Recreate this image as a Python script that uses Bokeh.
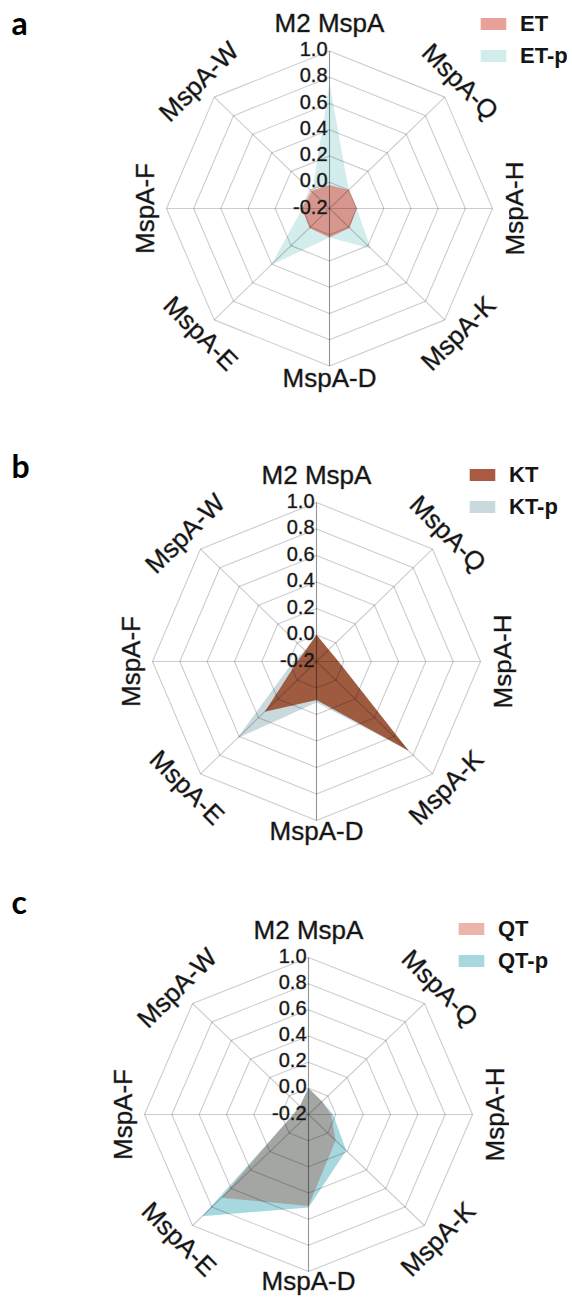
import math

from bokeh.core.properties import value
from bokeh.embed import file_html
from bokeh.layouts import column
from bokeh.models import Label, Legend, LegendItem
from bokeh.plotting import figure
from bokeh.resources import INLINE

# ---- data -------------------------------------------------------------
categories = ["M2 MspA", "MspA-Q", "MspA-H", "MspA-K",
              "MspA-D", "MspA-E", "MspA-F", "MspA-W"]
tick_values = [1.0, 0.8, 0.6, 0.4, 0.2, 0.0, -0.2]
tick_labels = ["1.0", "0.8", "0.6", "0.4", "0.2", "0.0", "-0.2"]
ring_values = [0.0, 0.2, 0.4, 0.6, 0.8, 1.0]
R_MIN, R_MAX = -0.2, 1.0

et = [-0.02, 0.0, 0.0, 0.01, 0.02, 0.01, 0.0, -0.01]
et_p = [0.75, 0.0, 0.0, 0.23, 0.02, 0.41, 0.0, -0.02]

kt = [0.0, -0.075, -0.04, 0.75, 0.09, 0.335, -0.06, -0.085]
kt_p = [0.0, -0.075, -0.04, 0.75, 0.11, 0.62, -0.03, -0.08]

qt = [0.0, -0.06, -0.035, 0.08, 0.50, 0.70, -0.085, -0.11]
qt_p = [0.0, -0.06, -0.02, 0.19, 0.51, 0.90, -0.09, -0.11]

# ---- styling ----------------------------------------------------------
PAGE_W = 572
FONT = "Liberation Sans"
LETTER_FONT = "Lato"
TEXT_COLOR = "#151515"
TEXT_HALO = "rgba(21, 21, 21, 0.35)"   # faint stroke to thicken glyphs a little
# gap (px) between the outer ring and each category label, clockwise from top
LABEL_GAP = [28, 22, 22, 19, 12, 19, 22, 22]

N = len(categories)
THETAS = [2 * math.pi * k / N for k in range(N)]


def radius(v):
    return (v - R_MIN) / (R_MAX - R_MIN)


def polar_xy(values):
    rs = [radius(v) for v in values]
    xs = [r * math.sin(t) for r, t in zip(rs, THETAS)]
    ys = [r * math.cos(t) for r, t in zip(rs, THETAS)]
    return xs, ys


def line_cross(p1, p2, q1, q2):
    d1 = (p2[0] - p1[0], p2[1] - p1[1])
    d2 = (q2[0] - q1[0], q2[1] - q1[1])
    den = d1[0] * d2[1] - d1[1] * d2[0]
    t = ((q1[0] - p1[0]) * d2[1] - (q1[1] - p1[1]) * d2[0]) / den
    return p1[0] + t * d1[0], p1[1] + t * d1[1]


def overlap_xy(a, b):
    """Region shared by two radar polygons (both star-shaped about the centre)."""
    ax, ay = polar_xy(a)
    bx, by = polar_xy(b)
    xs, ys = [], []
    for k in range(N):
        j = (k + 1) % N
        if a[k] <= b[k]:
            xs.append(ax[k]); ys.append(ay[k])
        else:
            xs.append(bx[k]); ys.append(by[k])
        if (a[k] - b[k]) * (a[j] - b[j]) < 0:
            x, y = line_cross((ax[k], ay[k]), (ax[j], ay[j]),
                              (bx[k], by[k]), (bx[j], by[j]))
            xs.append(x); ys.append(y)
    return xs, ys


def rot_upright(theta):
    """Tangential label angle, flipped so text never reads upside down."""
    a = -math.degrees(theta)
    while a <= -90:
        a += 180
    while a > 90:
        a -= 180
    return math.radians(a)


def radar_panel(letter, names, first, second, colors, blend, height,
                cx, cy, sx, sy, legend_top_left, letter_base, bottom_gap):
    p = figure(width=PAGE_W, height=height,
               x_range=(-cx / sx, (PAGE_W - cx) / sx),
               y_range=(-(height - cy) / sy, cy / sy),
               x_axis_location=None, y_axis_location=None,
               output_backend="svg", toolbar_location=None,
               min_border=0, outline_line_color=None,
               background_fill_color="white", border_fill_color="white")
    p.grid.visible = False

    # series fills
    x1, y1 = polar_xy(first)
    x2, y2 = polar_xy(second)
    r1 = p.patch(x1, y1, fill_color=colors[0], line_color=None)
    r2 = p.patch(x2, y2, fill_color=colors[1], line_color=None)
    ox, oy = overlap_xy(first, second)
    p.patch(ox, oy, fill_color=blend, line_color=None)

    # web: rings and spokes (semi-transparent so they show through fills)
    ring_xs, ring_ys = [], []
    for rv in ring_values:
        r = radius(rv)
        ring_xs.append([r * math.sin(t) for t in THETAS + [THETAS[0]]])
        ring_ys.append([r * math.cos(t) for t in THETAS + [THETAS[0]]])
    p.multi_line(ring_xs, ring_ys, line_color="black", line_alpha=0.2,
                 line_width=1.1)
    spoke_xs = [[0, math.sin(t)] for t in THETAS[1:4] + THETAS[5:]]
    spoke_ys = [[0, math.cos(t)] for t in THETAS[1:4] + THETAS[5:]]
    p.multi_line(spoke_xs, spoke_ys, line_color="black", line_alpha=0.2,
                 line_width=1.1)
    # radial axis (vertical)
    p.line([0, 0], [-1, 1], line_color="black", line_alpha=0.42, line_width=1.1)

    # radial tick labels
    p.text(x=[0] * len(tick_values), y=[radius(v) for v in tick_values],
           text=tick_labels, x_offset=-2, y_offset=-2,
           text_align="right", text_baseline="middle",
           text_font=value(FONT), text_font_size="20px",
           text_color=TEXT_COLOR, text_outline_color=TEXT_HALO)

    # category labels around the web
    gaps = list(LABEL_GAP)
    gaps[4] = bottom_gap
    lx = [(1 + g / sx) * math.sin(t) for g, t in zip(gaps, THETAS)]
    ly = [(1 + g / sy) * math.cos(t) for g, t in zip(gaps, THETAS)]
    p.text(x=lx, y=ly, text=categories, angle=[rot_upright(t) for t in THETAS],
           text_align="center", text_baseline="middle",
           text_font=value(FONT), text_font_size="26px",
           text_color=TEXT_COLOR, text_outline_color=TEXT_HALO)

    # legend
    item_h, spacing = 22, 6
    leg_h = 2 * item_h + spacing
    lx0, ly0 = legend_top_left
    legend = Legend(
        items=[LegendItem(label=names[0], renderers=[r1]),
               LegendItem(label=names[1], renderers=[r2])],
        location=(lx0, height - (ly0 - (item_h - 15) / 2) - leg_h),
        glyph_width=32, glyph_height=15, label_height=item_h,
        label_standoff=11, spacing=spacing, padding=0, margin=0,
        border_line_color=None, background_fill_alpha=0,
        label_text_font=FONT, label_text_font_style="bold",
        label_text_font_size="22px", label_text_color=TEXT_COLOR)
    p.add_layout(legend)

    p.add_layout(Label(x=11, y=height - letter_base, x_units="screen",
                       y_units="screen", text=letter, text_font=LETTER_FONT,
                       text_font_style="bold", text_font_size="32px",
                       text_color="black", text_baseline="alphabetic"))
    return p


pa = radar_panel("a", ["ET", "ET-p"], et, et_p,
                 ["#E8A199", "#D3ECEC"], "#D7978E",
                 433, 329, 208, 163, 157.5, (477, 22), 22, 12)
pb = radar_panel("b", ["KT", "KT-p"], kt, kt_p,
                 ["#A85B40", "#C9D9DD"], "#9E5B40",
                 433, 316, 228, 164, 159, (466, 40), 32, 10)
pc = radar_panel("c", ["QT", "QT-p"], qt, qt_p,
                 ["#EDB5A9", "#A7D7DF"], "#A4A6A3",
                 435, 308, 248, 164, 157, (455, 61), 35, 9)

layout = column(pa, pb, pc, spacing=0)
open("out.html", "w").write(file_html(layout, INLINE))
